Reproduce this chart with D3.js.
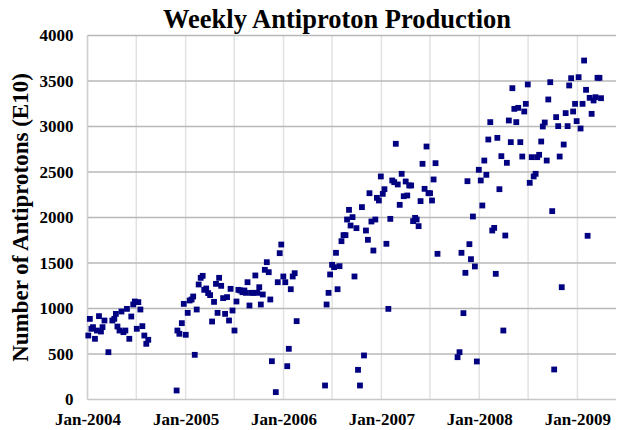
<!DOCTYPE html>
<html>
<head>
<meta charset="utf-8">
<script src="https://cdn.jsdelivr.net/npm/d3@7"></script>
<style>
  html, body { margin: 0; padding: 0; background: #fff; }
  svg { display: block; }
  text { font-family: "Liberation Serif", "Times New Roman", serif; font-weight: bold; fill: #000; }
</style>
</head>
<body>
<svg id="chart" width="617" height="430"></svg>
<script>
// ---- data (decimal year, antiprotons E10) ----
const weekYears = [
  2004.008,2004.024,2004.040,2004.056,2004.076,2004.096,2004.117,2004.137,2004.153,2004.173,
  2004.213,2004.253,2004.273,2004.289,2004.305,2004.326,2004.346,2004.366,2004.386,2004.402,
  2004.426,2004.446,2004.466,2004.482,2004.502,2004.518,2004.539,2004.559,2004.579,2004.599,2004.619,
  2004.908,2004.916,2004.936,2004.961,2004.981,2005.001,2005.021,2005.041,2005.061,2005.077,
  2005.093,2005.113,2005.133,2005.154,2005.174,2005.190,2005.210,2005.230,2005.250,2005.270,
  2005.290,2005.310,2005.326,2005.342,2005.363,2005.383,2005.403,2005.423,2005.443,2005.459,
  2005.479,2005.499,2005.519,2005.539,2005.559,2005.580,2005.600,2005.616,2005.632,2005.652,
  2005.672,2005.692,2005.712,2005.732,2005.752,2005.768,2005.788,2005.809,2005.829,2005.849,
  2005.865,2005.881,2005.921,2005.941,2005.961,2005.977,2005.998,2006.018,2006.038,2006.054,
  2006.074,2006.094,2006.114,2006.134,
  2006.424,2006.440,2006.460,2006.476,2006.496,2006.516,2006.536,2006.552,2006.572,2006.592,
  2006.613,2006.633,2006.649,2006.669,2006.685,2006.705,2006.725,2006.745,2006.761,2006.781,
  2006.801,2006.822,2006.842,2006.862,2006.878,2006.898,2006.918,2006.938,2006.954,2006.974,
  2006.994,2007.014,2007.031,2007.051,2007.071,2007.091,2007.111,2007.131,2007.147,2007.167,
  2007.187,2007.207,2007.228,2007.248,2007.264,2007.284,2007.304,2007.324,2007.344,2007.360,
  2007.380,2007.400,2007.420,2007.441,2007.461,2007.481,2007.497,2007.517,2007.533,2007.553,2007.573,
  2007.778,2007.798,2007.818,2007.838,2007.858,2007.879,2007.899,2007.915,2007.935,2007.955,
  2007.975,2007.995,2008.015,2008.031,2008.051,2008.072,2008.092,2008.112,2008.132,2008.152,
  2008.168,2008.184,2008.205,2008.225,2008.245,2008.265,2008.281,2008.301,2008.321,2008.337,
  2008.357,2008.377,2008.397,2008.418,2008.438,2008.458,2008.474,2008.494,2008.514,2008.534,
  2008.554,2008.574,2008.590,2008.610,2008.631,2008.647,2008.667,2008.687,2008.703,2008.723,
  2008.743,2008.763,2008.783,2008.804,2008.819,2008.840,2008.860,2008.880,2008.900,2008.916,
  2008.936,2008.956,2008.976,2008.992,2009.012,2009.032,2009.052,2009.068,2009.088,2009.104,
  2009.125,2009.145,2009.165,2009.185,2009.205,2009.225,2009.241
];
const antiprotons = [
  703,886,777,795,667,758,916,747,795,868,
  520,868,886,941,802,758,967,740,758,996,
  667,912,1044,1077,777,1070,989,806,703,612,656,
  99,758,722,839,1051,711,952,1088,1099,1132,
  491,989,1264,1337,1359,1205,1220,1169,1147,857,
  1073,1271,952,1337,1249,1114,941,1125,868,1216,
  978,758,1077,1205,1198,1179,1198,1172,1289,1033,
  1172,1172,1363,1172,1234,1044,1154,1425,1509,1399,
  1099,421,81,1289,1608,1703,1352,1289,366,557,
  1212,1352,1388,861,
  154,1044,1172,1374,1480,1454,1612,1212,1465,1740,
  1806,1806,1978,2084,1912,2004,1352,1883,326,154,
  2114,484,1857,1755,2267,1956,1637,1978,2216,2187,
  2451,2260,2311,1711,996,1985,2407,2388,2810,2363,
  2139,2480,2234,2396,2242,2352,2352,1960,1996,1978,
  1905,2180,2590,2315,2780,2267,2267,2187,2418,2597,1601,
  465,520,1612,949,1392,2399,1707,1542,2011,1462,
  418,2524,2407,2132,2626,2469,2857,3048,1857,1886,
  1381,2875,2311,2674,758,1802,2601,3066,2828,3421,
  3194,3048,3205,2828,2670,3165,3249,3462,2381,2663,
  2451,2480,2663,2689,2835,3000,3044,2626,3297,3487,
  2070,330,3103,3004,2670,1234,2802,3147,3004,3451,
  3531,3165,3249,3059,3542,2978,3249,3725,3403,1799,
  3315,3139,3286,3322,3535,3535,3311
];
const yTicks = [0, 500, 1000, 1500, 2000, 2500, 3000, 3500, 4000];
const xTickYears = [2004, 2005, 2006, 2007, 2008, 2009];
const titleText = "Weekly Antiproton Production";
const yLabelText = "Number of Antiprotons (E10)";

// ---- helpers ----
function decToDate(dy) {
  const yr = Math.floor(dy);
  const s = Date.UTC(yr, 0, 1), e = Date.UTC(yr + 1, 0, 1);
  return new Date(s + (dy - yr) * (e - s));
}
const points = weekYears.map((d, i) => ({ date: decToDate(d), value: antiprotons[i] }));

// ---- layout ----
const svg = d3.select("#chart");
const plotL = 87.5, plotR = 616, plotT = 35.5, plotB = 399.5;

const x = d3.scaleUtc()
  .domain([new Date(Date.UTC(2004, 0, 1)), decToDate(2009.394)])
  .range([plotL, plotR]);
const y = d3.scaleLinear().domain([0, 4000]).range([plotB, plotT]);

// vertical gridlines (every 6 months)
const gridDates = d3.utcMonth.every(6).range(new Date(Date.UTC(2004, 0, 1)), x.domain()[1]);
svg.append("g").selectAll("line").data(gridDates).join("line")
  .attr("x1", d => x(d)).attr("x2", d => x(d))
  .attr("y1", plotT).attr("y2", plotB)
  .attr("stroke", "#e2e2e2").attr("stroke-width", 1.5);

// horizontal gridlines
svg.append("g").selectAll("line").data(yTicks).join("line")
  .attr("x1", plotL).attr("x2", plotR)
  .attr("y1", d => y(d)).attr("y2", d => y(d))
  .attr("stroke", d => d === 0 ? "#c8c8c8" : "#b8b8b8").attr("stroke-width", 1.5);

// left axis line
svg.append("line").attr("x1", plotL).attr("x2", plotL).attr("y1", plotT).attr("y2", plotB)
  .attr("stroke", "#d0d0d0").attr("stroke-width", 1.5);

// y tick labels
const yAxis = d3.axisLeft(y).tickValues(yTicks).tickSize(0).tickPadding(14).tickFormat(d3.format("d"));
const gy = svg.append("g").attr("transform", `translate(${plotL},0)`).call(yAxis);
gy.select(".domain").remove();
gy.selectAll("text").style("font-size", "17px").style("font-family", "Liberation Serif, serif").style("font-weight", "bold");

// x tick labels
const xAxis = d3.axisBottom(x)
  .tickValues(xTickYears.map(yr => new Date(Date.UTC(yr, 0, 1))))
  .tickSize(0).tickPadding(13)
  .tickFormat(d3.utcFormat("%b-%Y"));
const gx = svg.append("g").attr("transform", `translate(0,${plotB})`).call(xAxis);
gx.select(".domain").remove();
gx.selectAll("text").style("font-size", "17px").style("font-family", "Liberation Serif, serif").style("font-weight", "bold");

// points
const sz = 5.8;
svg.append("g").selectAll("rect").data(points).join("rect")
  .attr("x", d => x(d.date) - sz / 2)
  .attr("y", d => y(d.value) - sz / 2)
  .attr("width", sz).attr("height", sz)
  .attr("fill", "#000080");

// title
svg.append("text").attr("x", 337).attr("y", 28).attr("text-anchor", "middle")
  .style("font-size", "26.5px").text(titleText);

// y label
svg.append("text").attr("transform", "translate(28,217.5) rotate(-90)")
  .attr("text-anchor", "middle").style("font-size", "23px").text(yLabelText);
</script>
</body>
</html>
